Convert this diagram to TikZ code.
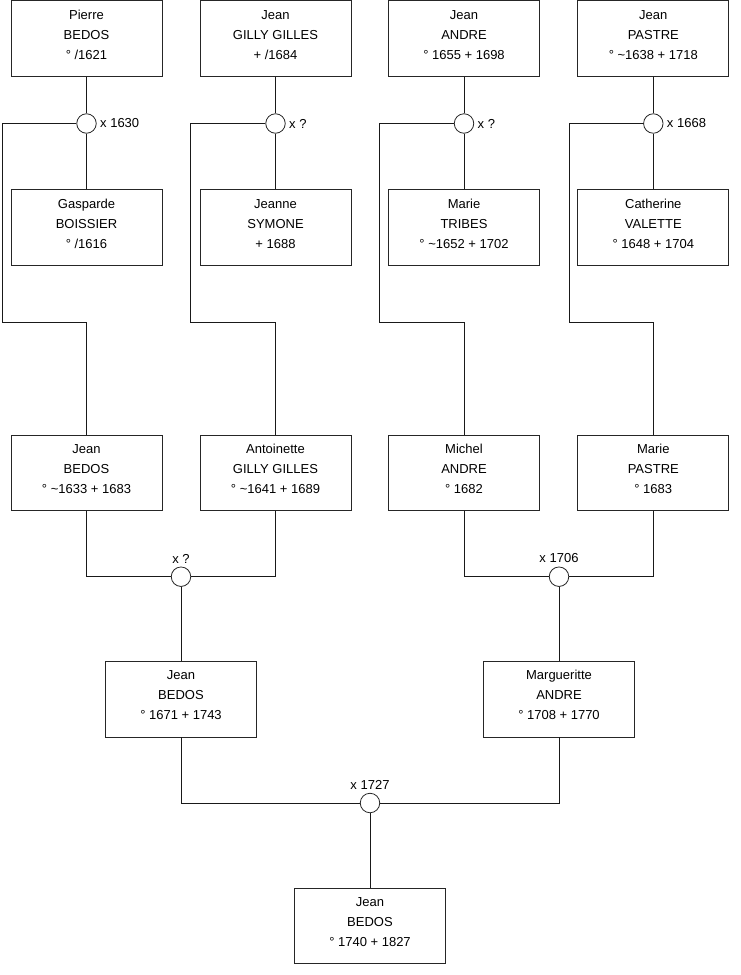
\documentclass[tikz,border=0pt]{standalone}
\usepackage{fontspec}
\setmainfont{Liberation Sans}
\newcommand{\pers}[3]{\raisebox{3.5pt}[\height][\depth]{\begin{tabular}{@{}c@{}}#1\\#2\\#3\end{tabular}}}
\begin{document}
\begin{tikzpicture}[x=1pt,y=-1pt,
  person/.style={draw=black!85, line width=0.8pt, minimum width=151pt, minimum height=75.5pt, inner sep=0pt, font=\fontsize{13}{20}\selectfont},
  union/.style={circle, draw=black!85, fill=white, line width=0.8pt, minimum size=19.5pt, inner sep=0pt},
  lbl/.style={font=\fontsize{13}{15}\selectfont},
  link/.style={line width=0.8pt, draw=black!90}]
\useasboundingbox (0,0) rectangle (740,975);
% top row
\node[person] (p1) at (86.5,38.5) {\pers{Pierre}{BEDOS}{° /1621}};
\node[person] (p2) at (275.5,38.5) {\pers{Jean}{GILLY GILLES}{+ /1684}};
\node[person] (p3) at (464,38.5) {\pers{Jean}{ANDRE}{° 1655 + 1698}};
\node[person] (p4) at (653.3,38.5) {\pers{Jean}{PASTRE}{° \textasciitilde1638 + 1718}};
% unions top
\node[union, label={[lbl,label distance=0pt]right:x 1630}] (c1) at (86.5,123.5) {};
\node[union, label={[lbl,label distance=0pt]right:x ?}] (c2) at (275.5,123.5) {};
\node[union, label={[lbl,label distance=0pt]right:x ?}] (c3) at (464,123.5) {};
\node[union, label={[lbl,label distance=0pt]right:x 1668}] (c4) at (653.3,123.5) {};
% spouses
\node[person] (s1) at (86.5,227.5) {\pers{Gasparde}{BOISSIER}{° /1616}};
\node[person] (s2) at (275.5,227.5) {\pers{Jeanne}{SYMONE}{+ 1688}};
\node[person] (s3) at (464,227.5) {\pers{Marie}{TRIBES}{° \textasciitilde1652 + 1702}};
\node[person] (s4) at (653.3,227.5) {\pers{Catherine}{VALETTE}{° 1648 + 1704}};
% corners
\coordinate (k1) at (2,322);
\coordinate (k2) at (190,322);
\coordinate (k3) at (379.3,322);
\coordinate (k4) at (569,322);
% row 3
\node[person] (j1) at (86.5,472.7) {\pers{Jean}{BEDOS}{° \textasciitilde1633 + 1683}};
\node[person] (j2) at (275.5,472.7) {\pers{Antoinette}{GILLY GILLES}{° \textasciitilde1641 + 1689}};
\node[person] (j3) at (464,472.7) {\pers{Michel}{ANDRE}{° 1682}};
\node[person] (j4) at (653.3,472.7) {\pers{Marie}{PASTRE}{° 1683}};
% unions row 3
\node[union, label={[lbl]above:x ?}] (c5) at (181,576.7) {};
\node[union, label={[lbl]above:x 1706}] (c6) at (559,576.7) {};
% row 4
\node[person] (b1) at (181,699.3) {\pers{Jean}{BEDOS}{° 1671 + 1743}};
\node[person] (b2) at (559,699.3) {\pers{Margueritte}{ANDRE}{° 1708 + 1770}};
% final union
\node[union, label={[lbl]above:x 1727}] (c7) at (370,803) {};
\node[person] (f) at (370,926) {\pers{Jean}{BEDOS}{° 1740 + 1827}};
% links
\draw[link] (p1) -- (c1) -- (s1);
\draw[link] (p2) -- (c2) -- (s2);
\draw[link] (p3) -- (c3) -- (s3);
\draw[link] (p4) -- (c4) -- (s4);
\draw[link] (c1.west) -| (k1) -| (j1.north);
\draw[link] (c2.west) -| (k2) -| (j2.north);
\draw[link] (c3.west) -| (k3) -| (j3.north);
\draw[link] (c4.west) -| (k4) -| (j4.north);
\draw[link] (j1.south) |- (c5.west);
\draw[link] (j2.south) |- (c5.east);
\draw[link] (c5) -- (b1);
\draw[link] (j3.south) |- (c6.west);
\draw[link] (j4.south) |- (c6.east);
\draw[link] (c6) -- (b2);
\draw[link] (b1.south) |- (c7.west);
\draw[link] (b2.south) |- (c7.east);
\draw[link] (c7) -- (f);
\end{tikzpicture}
\end{document}
